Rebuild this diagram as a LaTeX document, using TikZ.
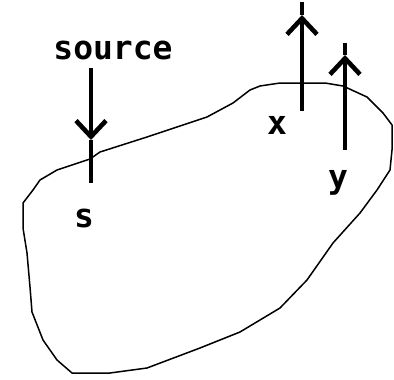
\documentclass[tikz,border=0pt]{standalone}
\usepackage{fontspec}
\setmonofont{DejaVu Sans Mono}
\usetikzlibrary{arrows.meta}
\tikzset{
  outline/.style={line width=1.5pt, line join=round},
  shaft/.style={line width=4pt},
  arr/.style={line width=4pt, -{Straight Barb[length=16pt, width=30pt, line width=4.6pt]}},
  lab/.style={font=\ttfamily\bfseries\fontsize{33}{33}\selectfont, inner sep=0pt}
}
\begin{document}
\begin{tikzpicture}[x=1pt, y=-1pt]
\useasboundingbox (0,0) rectangle (394,380);
% region outline
\draw[outline] (260,86) -- (280,83) -- (325,83) -- (343,86) -- (367,97) -- (383,113)
  -- (392,125) -- (392,150) -- (390,170) -- (377,190) -- (360,213) -- (333,243)
  -- (307,280) -- (280,308) -- (240,332) -- (200,348) -- (147,368) -- (110,373)
  -- (72,373) -- (57,360) -- (43,340) -- (32,312) -- (30,287) -- (27,253)
  -- (23,228) -- (23,203) -- (33,190) -- (40,180) -- (57,170) -- (90,159)
  -- (100,152) -- (147,137) -- (207,117) -- (233,103) -- (250,90) -- cycle;
% coordinates
\coordinate (srctop) at (91,68);
\coordinate (srctip) at (91,140);
\coordinate (srcbot) at (91,183);
\coordinate (xbot) at (302,111);
\coordinate (xtip) at (302,15);
\coordinate (xtop) at (302,2);
\coordinate (ybot) at (345,150);
\coordinate (ytip) at (345,55);
\coordinate (ytop) at (345,43);
% arrows
\draw[arr] (srctop) -- (srctip);
\draw[shaft] (srctip) -- (srcbot);
\draw[arr] (xbot) -- (xtip);
\draw[shaft] (xtip) -- (xtop);
\draw[arr] (ybot) -- (ytip);
\draw[shaft] (ytip) -- (ytop);
% labels
\node[lab] (source) at (113,50) {source};
\node[lab] (xl) at (277,125) {x};
\node[lab] (yl) at (338,183) {y};
\node[lab] (sl) at (84,218) {s};
\end{tikzpicture}
\end{document}
